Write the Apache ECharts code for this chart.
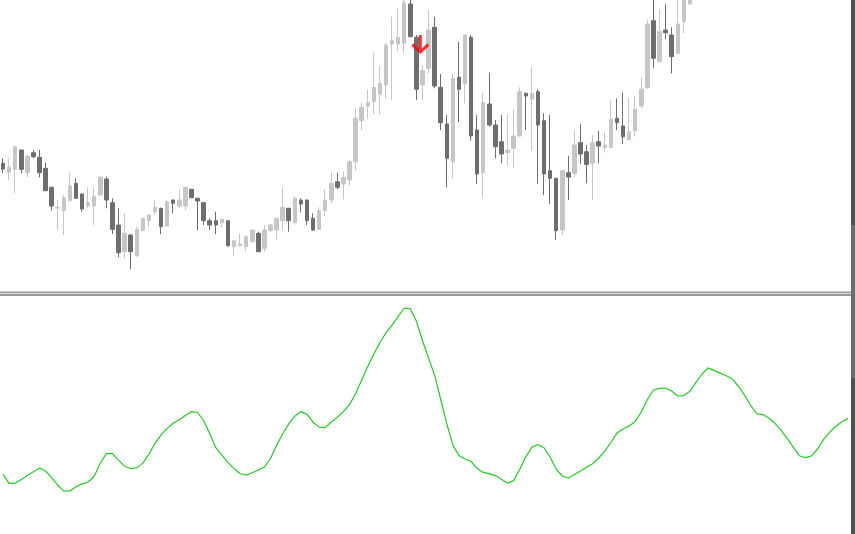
<!DOCTYPE html>
<html>
<head>
<meta charset="utf-8">
<script src="https://cdn.jsdelivr.net/npm/echarts@6/dist/echarts.min.js"></script>
<style>
html,body{margin:0;padding:0;background:#ffffff;}
#c{width:855px;height:534px;}
</style>
</head>
<body>
<div id="c"></div>
<script>
// ---- data (price units; higher = up) ----
const slotCount = 140;
const openV  = [126.7,117.7,120.7,140,117.3,137.3,132.7,121.7,102.7,82,79.3,89.3,106.7,96,84,84,95,111,87.3,65,38.3,55,34,59.3,69.3,78.3,81.7,64,90,84,84,100.7,91.7,87.3,69.3,69.3,67.3,69.3,43.3,44.3,43.3,48.3,56.7,41.7,59.3,60,69.3,81.7,67.3,90,90,71.7,60.7,79.3,90,108.3,106,110,128.3,169.3,184,188.3,196,205,246,246,246.7,286,252.7,205,221.7,262.7,202.7,166,128.3,212.7,206,252.7,160,117.3,186,165,148.3,137.3,141.7,154,196.7,190.7,198.3,169.3,119.3,111.7,60,117.3,116.7,147.3,138.3,126.7,148.3,142.7,142.7,171.7,164,150,159.3,184,202.7,269.3,228.3,260,255,236.7,268.3,286];
const closeV = [121,122.7,143.3,120.7,134,133.3,117.3,99.3,84,82.7,92.3,104,91.7,81,87.3,93.3,112.7,90,60.7,37.3,56.7,38.3,60.7,71.7,75,82.7,63.3,88.3,86.7,90,102.7,92.3,89,69.3,65,65,70.7,44.3,49.3,46,53.3,60,38.3,60,65,71.7,82.7,69.3,91.7,86,69.3,60,79.3,90,106.7,102.7,112.7,128.3,171.7,182.7,187.3,202.7,206.7,245,249.3,252.7,287.3,253.3,200.7,219.3,260,204,167.3,131.7,211.7,200.7,255,154,116,187.3,165,143.3,136,140,154,198.3,194,196.7,165,116,111.7,59.3,119.3,113,145,136,125.5,147.3,144,145,170.7,167.3,153.3,158.3,180.7,200.7,266,231.7,258.3,257.3,233.3,266,300,300];
const lowV   = [116.7,110,96.7,116.7,112.7,131.7,112.7,98.8,79.3,60,55,88.8,91.2,78.3,81.7,65,94.5,81.7,56,32.7,31.7,20.7,33.5,58.8,63.3,75,56,63.5,76.7,81.7,80,91.8,60,65,60,56,62.7,43.3,34,43.8,38.3,47.8,37.8,38.3,58.3,50,60,58.3,66.8,77.3,65,59.5,60,74,86.7,100.7,90.7,104,120,160,171.7,176,176,191.7,190,238.3,237.3,252.8,190,190,216.7,201.7,160,102.7,111.7,168,186.7,149.3,106,92.7,163.3,131.7,126.7,125,121.7,153.5,160,139.3,106,95,86,50,55,90,113.3,126,106.7,90,126.7,137.3,142.2,160,146,149.5,153.3,181.7,200.7,221.7,227.8,250.7,216.7,236.2,256.7,285.5];
const highV  = [131.7,131.7,144,140.5,134.5,140,140,127.3,103.2,90,95,117.3,111.7,96.5,102.7,102.7,114,113.3,91.7,81.7,76.7,55.5,63.3,72.2,75.5,90,82.2,90,90.5,100.7,103.2,101.2,92.2,87.8,71.7,78.3,71.2,69.8,49.8,56.7,55,60.5,58.3,65,66,72.2,102.7,82.2,93.3,91.7,90.5,76.7,82.7,100.7,118.3,117.3,118.3,130,181.7,187.3,200.7,237.3,223.3,247.3,273.3,281.7,293,292,255,225,280,273.3,216,175,216.7,248.3,255.5,255,175,198.3,217.3,170,175,175,180.7,202.7,197.2,222.7,200.7,176.7,175,112.2,119.8,134,160,166,145,155,159.3,158.3,190,191.7,197.3,191.7,194,212.7,270,295,280.7,286,262.7,298,310,310];
const oscV = [59.7,50.6,50.7,54.6,58.4,62.2,66,63,56.3,48.8,42.9,43,47.3,50.1,52,57.7,71,80.3,80.4,73.8,67.7,65.5,66.1,70.9,79.7,90.7,99.2,105.6,110.7,114.3,118.6,122.3,121.5,113.5,100.5,86.3,78.8,71.4,65.3,60.5,58.8,61.2,64,67,75.5,88.4,100.2,110.1,117.8,122.4,119.8,111.8,106.9,106.4,112,116.9,122.4,129.4,140.3,154,167.5,180,191.5,201.2,208.8,217.7,226,225.2,212.9,193.3,176,158.8,134.5,110.3,88.7,78.6,75,72.5,65.4,61.6,60.2,58.4,54.7,50.8,53.4,64.5,77.2,86.6,89.5,86.3,76.8,64.9,58,56,59.6,63.1,66.7,70.3,76,82.9,91.5,100.9,105,108.1,112.6,122,134.5,144,145.7,146,143,138,138.4,142.7,151.6,160,166.1,163.4,160.9,158.3,154.9,147.5,138.8,128.5,120.4,119.4,115.8,110.7,103.6,95.7,86.9,78.3,76.3,78.1,85,94.6,101.9,107.5,112.3,115.6];
const arrowBar = [68];
const arrowPrice = [246.6];

const slots = [];
for (let i = 0; i < slotCount; i++) slots.push(String(i));
const candles = openV.map((o, i) => [o, closeV[i], lowV[i], highV[i]]);
const arrows = arrowBar.map((b, i) => [String(b), arrowPrice[i]]);

const chart = echarts.init(document.getElementById('c'), null, {renderer: 'canvas'});
const hiddenCat = (gi) => ({
  type: 'category', gridIndex: gi, data: slots, boundaryGap: true,
  show: false, axisLine: {show: false}, axisTick: {show: false}, axisLabel: {show: false}, splitLine: {show: false}
});
const hiddenVal = (gi, min, max) => ({
  type: 'value', gridIndex: gi, min: min, max: max, show: false, splitLine: {show: false}
});

chart.setOption({
  animation: false,
  backgroundColor: '#ffffff',
  grid: [
    {left: 0, right: 4, top: 0, height: 290},
    {left: 0, right: 4, top: 296, height: 238}
  ],
  xAxis: [hiddenCat(0), hiddenCat(1)],
  yAxis: [hiddenVal(0, 0, 290), hiddenVal(1, 0, 238)],
  series: [
    {
      type: 'candlestick', xAxisIndex: 0, yAxisIndex: 0,
      data: candles, barWidth: 4, clip: true,
      itemStyle: {
        color: '#c6c6c6', color0: '#6e6e6e',
        borderColor: '#c6c6c6', borderColor0: '#6e6e6e', borderWidth: 1
      }
    },
    {
      type: 'scatter', xAxisIndex: 0, yAxisIndex: 0,
      data: arrows, symbol: 'path://M8,0 L8,16 M0,9 L8,16 L16,9',
      symbolSize: [16, 17], symbolOffset: [4, 0],
      itemStyle: {color: 'rgba(0,0,0,0)', borderColor: '#ff0000', borderWidth: 3}
    },
    {
      type: 'line', xAxisIndex: 1, yAxisIndex: 1,
      data: oscV, showSymbol: false, smooth: false,
      lineStyle: {color: '#22c922', width: 1.2}
    }
  ],
  graphic: [
    {type: 'rect', shape: {x: 0, y: 291, width: 851, height: 1}, style: {fill: '#c8c8cc'}, silent: true},
    {type: 'rect', shape: {x: 0, y: 292, width: 851, height: 1}, style: {fill: '#a4a4a8'}, silent: true},
    {type: 'rect', shape: {x: 0, y: 293, width: 851, height: 1}, style: {fill: '#dcdcdc'}, silent: true},
    {type: 'rect', shape: {x: 0, y: 294, width: 851, height: 2}, style: {fill: '#9a9a9e'}, silent: true},
    {type: 'rect', shape: {x: 851, y: 0, width: 4, height: 225}, style: {fill: '#4e4e4e'}, silent: true},
    {type: 'rect', shape: {x: 851, y: 225, width: 4, height: 153}, style: {fill: '#6c6c6c'}, silent: true},
    {type: 'rect', shape: {x: 851, y: 378, width: 4, height: 156}, style: {fill: '#4e4e4e'}, silent: true}
  ]
});
</script>
</body>
</html>
